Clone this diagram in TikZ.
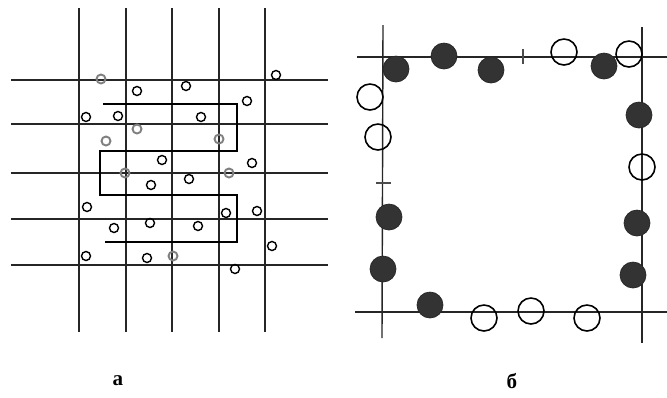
\documentclass[tikz,border=0pt]{standalone}
\usepackage{fontspec}
\setmainfont{Liberation Serif}
\usepackage{tikz}

\begin{document}
\begin{tikzpicture}[
    x=0.02cm, y=-0.02cm,
    gridline/.style={line width=0.8pt, draw=black!85},
    channel/.style={line width=0.9pt, draw=black},
    atom/.style={circle, draw=black, line width=0.8pt, inner sep=0pt, minimum size=0.18cm},
    faint/.style={atom, draw=black!50, line width=1.1pt},
    hollow/.style={circle, draw=black, line width=0.9pt, inner sep=0pt, minimum size=0.52cm},
    solid/.style={circle, draw=black!85, fill=black!80, inner sep=0pt, minimum size=0.52cm},
    tick/.style={line width=1.2pt, draw=black!70}
]
\useasboundingbox (0,0) rectangle (667,397);

% panel a: square grid
\foreach \gx in {79,126,172,219,265}
    \draw[gridline] (\gx,8) -- (\gx,332);
\foreach \gy in {80,124,173,219,265}
    \draw[gridline] (11,\gy) -- (328,\gy);

% meandering path
\draw[channel] (103,104) -- (237,104) -- (237,151) -- (100,151) -- (100,195)
    -- (237,195) -- (237,242) -- (105,242);

% particles
\foreach \px/\py [count=\i] in {276/75, 137/91, 186/86, 247/101, 86/117, 118/116,
    201/117, 162/160, 252/163, 189/179, 151/185, 87/207, 226/213, 257/211,
    150/223, 114/228, 198/226, 272/246, 86/256, 147/258, 235/269}
    \node[atom] (p\i) at (\px,\py) {};
\foreach \px/\py [count=\i] in {101/79, 137/129, 106/141, 219/139, 125/173,
    229/173, 173/256}
    \node[faint] (q\i) at (\px,\py) {};

\node[font=\bfseries\large] (capa) at (118,381) {а};

% panel b: square boundary
\draw[gridline] (383,25) -- (382,338);
\draw[gridline] (642,27) -- (642,343);
\draw[gridline] (357,57) -- (667,57);
\draw[gridline] (355,312) -- (667,312);
\draw[tick] (523,49) -- (523,64);
\draw[tick] (376,183) -- (391,183);

\foreach \px/\py [count=\i] in {396/69, 444/56, 491/70, 604/66, 639/115,
    389/217, 383/269, 637/223, 633/275, 430/305}
    \node[solid] (f\i) at (\px,\py) {};
\foreach \px/\py [count=\i] in {564/52, 629/54, 370/97, 378/137, 642/167,
    484/318, 531/311, 587/318}
    \node[hollow] (h\i) at (\px,\py) {};

\node[font=\bfseries\large] (capb) at (512,381) {б};
\end{tikzpicture}
\end{document}
